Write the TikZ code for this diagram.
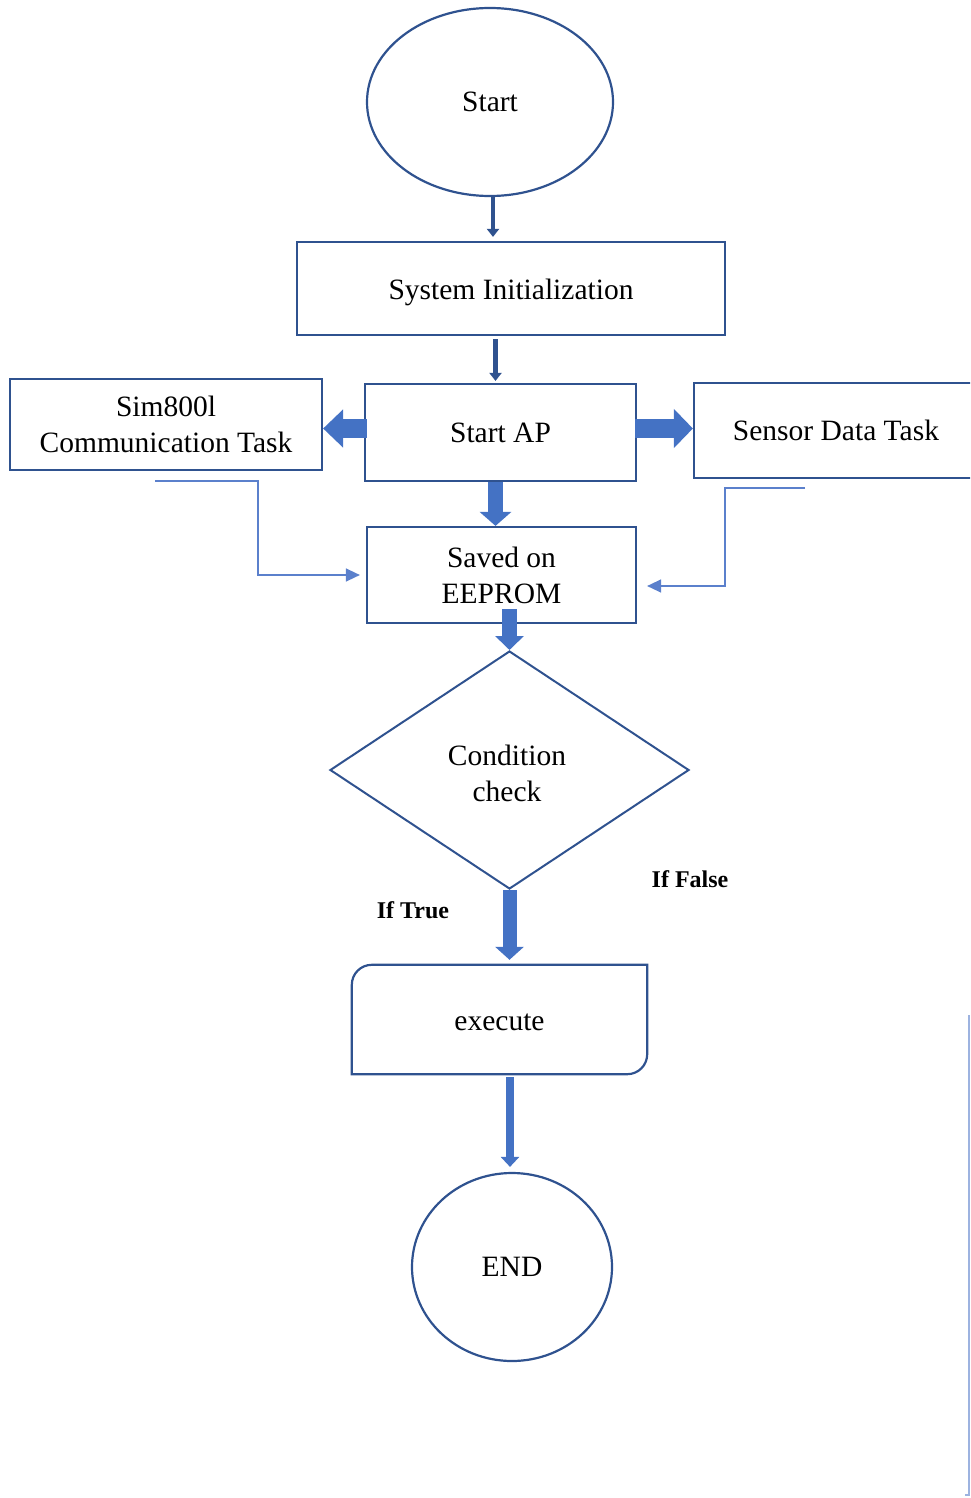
\documentclass[tikz,border=0pt]{standalone}
\usepackage{fontspec}
\setmainfont{Liberation Serif}
\usetikzlibrary{shapes.geometric,arrows.meta,calc}
\definecolor{bord}{HTML}{2F528F}
\definecolor{afill}{HTML}{4472C4}
\definecolor{conn}{HTML}{5B80CC}
\definecolor{edge}{HTML}{9DB3E0}
\begin{document}
\begin{tikzpicture}[x=1pt,y=-1pt,
  box/.style={draw=bord,line width=2.2pt,rectangle,inner sep=0pt,align=center,
    font=\fontsize{29.5}{36}\selectfont},
  oval/.style={draw=bord,line width=2.2pt,ellipse,inner sep=0pt,
    font=\fontsize{29.5}{36}\selectfont},
  plain/.style={inner sep=0pt,align=center,font=\fontsize{29.5}{36}\selectfont},
  lbl/.style={inner sep=0pt,font=\fontsize{24}{28}\selectfont\bfseries},
  smallarrow/.style={draw=bord,line width=4.5pt,-{Triangle[length=8pt,width=12pt]}},
  bigarrow/.style={draw=afill,line width=#1,line cap=butt},
  connector/.style={draw=conn,line width=1.4pt,-{Triangle[length=14pt,width=13pt]}}
]
\useasboundingbox (0,0) rectangle (970,1498);
\clip (0,0) rectangle (970,1498);

\node[oval,minimum width=246pt,minimum height=188pt] (start) at (490,102) {Start};
\node[box,minimum width=428pt,minimum height=93pt,text height=28pt] (sysinit) at (511,288.5) {System Initialization};
\node[box,minimum width=271pt,minimum height=97pt] (startap) at (500.5,432.5) {Start AP};
\node[box,minimum width=312pt,minimum height=91pt] (sim) at (166,424.5) {Sim800l\\Communication Task};
\node[box,minimum width=284pt,minimum height=95pt] (sensor) at (836,430.5) {Sensor Data Task};
\node[box,minimum width=269pt,minimum height=96pt] (saved) at (501.5,575) {Saved on\\EEPROM};
\node[draw=bord,line width=2pt,diamond,inner sep=0pt,minimum width=359pt,minimum height=238pt] (cond) at (509.5,770) {};
\node[plain] (condtext) at (507,773) {Condition\\check};
\node[plain,minimum width=295pt,minimum height=109pt,text height=23pt] (exe) at (499.5,1019.5) {execute};
\draw[bord,line width=2.2pt]
  (exe.south west) -- ([yshift=-20pt]exe.north west) to[out=90,in=180] ([xshift=20pt]exe.north west)
  -- (exe.north east) -- ([yshift=20pt]exe.south east) to[out=-90,in=0] ([xshift=-20pt]exe.south east)
  -- cycle;
\node[oval,minimum width=200pt,minimum height=188pt] (endn) at (512,1267) {END};

\node[lbl] (iftrue) at (413,910) {If True};
\node[lbl] (iffalse) at (690,879) {If False};

% small arrows
\draw[smallarrow] ([xshift=3pt]start.south) -- ([xshift=3pt,yshift=4pt]start.south |- sysinit.north);
\draw[smallarrow] ([xshift=-5pt,yshift=-3pt]startap.north |- sysinit.south) -- ([xshift=-5pt,yshift=2pt]startap.north);

% block arrows
\draw[bigarrow=19pt,-{Triangle[length=20pt,width=37pt]}] ([yshift=4pt,xshift=3pt]startap.west) -- ([yshift=4pt]startap.west -| sim.east);
\draw[bigarrow=19pt,-{Triangle[length=19pt,width=38pt]}] ([yshift=4pt,xshift=-2pt]startap.east) -- ([yshift=4pt]startap.east -| sensor.west);
\draw[bigarrow=15pt,-{Triangle[length=14pt,width=31pt]}] ([xshift=-5pt]startap.south) -- ([xshift=-5pt]startap.south |- saved.north);
\draw[bigarrow=15pt,-{Triangle[length=14pt,width=28pt]}] ([yshift=15pt]saved.south -| cond.north) -- (cond.north);
\draw[bigarrow=14pt,-{Triangle[length=13pt,width=28pt]}] (cond.south) -- ([yshift=5pt]cond.south |- exe.north);
\draw[bigarrow=8pt,-{Triangle[length=10pt,width=18pt]}] ([xshift=-2pt,yshift=-3pt]endn.north |- exe.south) -- ([xshift=-2pt,yshift=5pt]endn.north);

% thin connectors
\coordinate (lfree) at (155,481);
\coordinate (lbend) at (258,481);
\draw[connector] (lfree) -- (lbend) |- ([xshift=-6pt]saved.west);
\coordinate (rfree) at (805,488);
\coordinate (rbend) at (725,488);
\draw[connector] (rfree) -- (rbend) |- ([xshift=10pt,yshift=-11pt]saved.east);

% cropped edge line
\coordinate (e1) at (969,1015);
\coordinate (e2) at (969,1495);
\coordinate (e3) at (965,1495);
\draw[edge,line width=1.2pt] (e1) -- (e2) -- (e3);
\end{tikzpicture}
\end{document}
